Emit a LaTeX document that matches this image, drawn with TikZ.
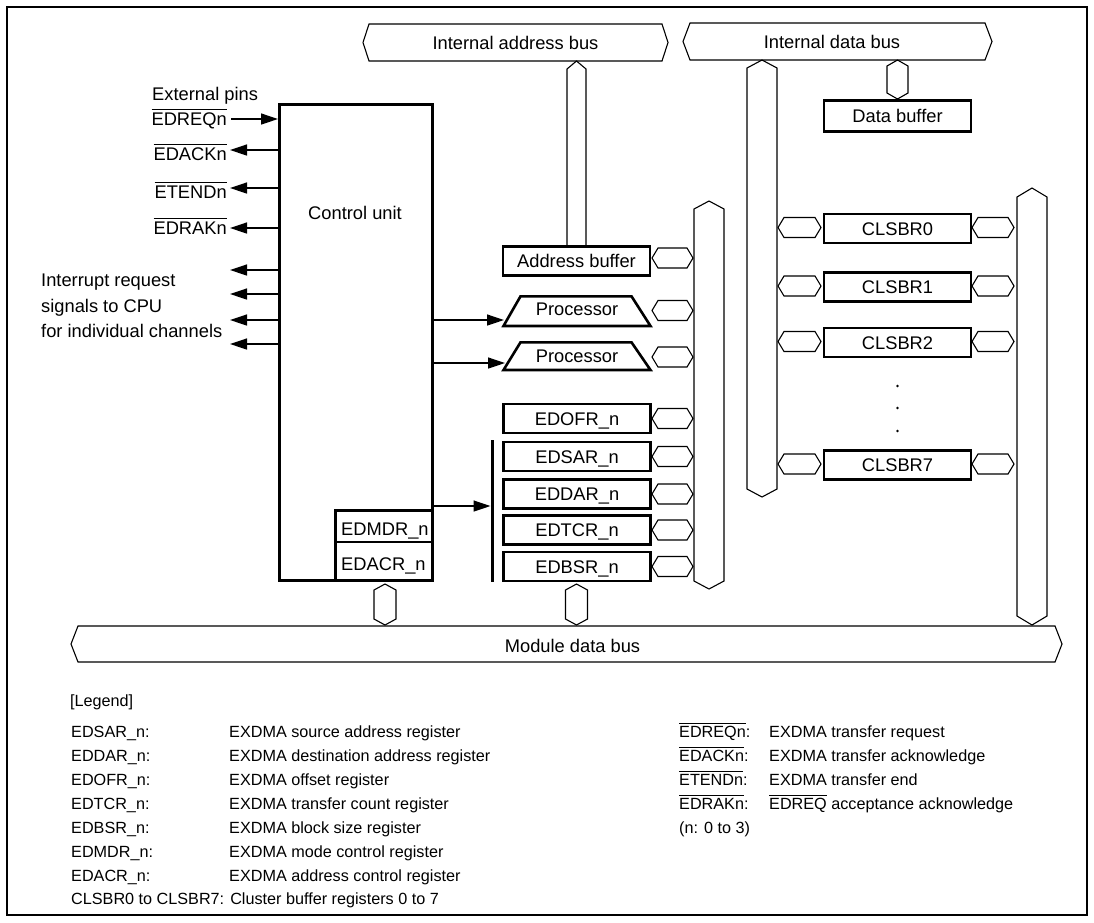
\documentclass[tikz,border=0pt]{standalone}
\usepackage{fontspec}
\setmainfont{Liberation Sans}
\usetikzlibrary{arrows.meta}

\newcommand{\diafont}{\fontsize{18.3}{22}\selectfont}
\newcommand{\legfont}{\fontsize{16.2}{19}\selectfont}
\newcommand{\ovl}[1]{\vbox{\hrule height 1pt\kern 2.6pt\hbox{#1}}}
%横バス
\newcommand{\hbuspath}[5]{\draw[bus] (#1,#3) -- (#1+#5,#3-#4) -- (#2-#5,#3-#4) -- (#2,#3) -- (#2-#5,#3+#4) -- (#1+#5,#3+#4) -- cycle;}
%縦バス
\newcommand{\vbuspath}[5]{\draw[bus] (#1,#2) -- (#1+#4,#2+#5) -- (#1+#4,#3-#5) -- (#1,#3) -- (#1-#4,#3-#5) -- (#1-#4,#2+#5) -- cycle;}

\tikzset{
  bus/.style={draw, line width=1.1pt},
  lbl/.style={inner sep=0pt, text height=13.1pt, text depth=0pt},
  regbox/.style={draw, line width=2.6pt, inner sep=0pt, minimum width=147pt, minimum height=29pt, text height=13.1pt, text depth=0pt},
  leg/.style={anchor=west, inner sep=0pt, font=\legfont, text height=11.6pt, text depth=0pt},
  sig/.style={line width=1.3pt, -{Triangle[length=17pt,width=11pt]}},
}

\begin{document}
\begin{tikzpicture}[x=1pt, y=-1pt, font=\diafont]
  \useasboundingbox (0,0) rectangle (1094,922);
  %枠
  \draw[line width=2.5pt] (7,7) rectangle (1087,915);
  %バス
  \hbuspath{363}{668}{42.5}{18.5}{6}
  \hbuspath{683}{992}{41.5}{18.5}{7}
  \hbuspath{71}{1062}{644}{18}{7}
  \node[lbl] (iab) at (515.5,42.5) {Internal address bus};
  \node[lbl] (idb) at (832,41.5) {Internal data bus};
  \node[lbl] (mdb) at (572.5,645.5) {Module data bus};
  \draw[bus] (567,245) -- (567,69) -- (576.5,61) -- (586,69) -- (586,245);
  \vbuspath{762}{60}{497}{15}{8}
  \vbuspath{709}{201}{589}{15}{8}
  \vbuspath{1032}{188}{625}{15}{9}
  \vbuspath{897.5}{60}{99}{10.5}{6}
  \vbuspath{385}{584}{625}{11}{6}
  \vbuspath{576.5}{584}{625}{11}{6}
  \foreach \y in {258,310.5,357,418.5,456.5,494,530,566.5}{\hbuspath{652}{693}{\y}{10}{6}}
  \foreach \y in {227.5,286,341.5,464}{
    \hbuspath{778}{821}{\y}{10}{6}
    \hbuspath{972}{1014}{\y}{10}{6}
  }
  %制御部
  \node[draw, line width=2.6pt, inner sep=0pt, minimum width=153.4pt, minimum height=476.4pt] (cu) at (356,342.5) {};
  \node[lbl] (cutxt) at (355,213) {Control unit};
  \node[regbox, minimum width=97.4pt, minimum height=31.7pt] (mdr) at (384,526.2) {};
  \node[regbox, minimum width=97.4pt, minimum height=38.7pt] (acr) at (384,561.4) {};
  \node[lbl, anchor=west] (mdrtxt) at (341,529) {EDMDR\_n};
  \node[lbl, anchor=west] (acrtxt) at (341,563.5) {EDACR\_n};
  %バッファ
  \node[regbox] (abuf) at (576.5,261) {Address buffer};
  \node[regbox, minimum height=31.4pt] (dbuf) at (897.5,116) {Data buffer};
  %演算器
  \draw[line width=2.6pt] (503.5,326) -- (520.5,296.3) -- (631.5,296.3) -- (650.5,326) -- cycle;
  \node[lbl] (proc1) at (577,308.5) {Processor};
  \draw[line width=2.6pt] (503.5,370) -- (520.5,342.3) -- (631.5,342.3) -- (650.5,370) -- cycle;
  \node[lbl] (proc2) at (577,355.5) {Processor};
  \coordinate (p1in) at (504,320);
  \coordinate (p2in) at (505,363);
  \draw[sig] (cu.east |- p1in) -- (p1in);
  \draw[sig] (cu.east |- p2in) -- (p2in);
  %レジスタ
  \node[regbox] (ofr) at (577,418.5) {EDOFR\_n};
  \node[regbox] (sar) at (577,456.5) {EDSAR\_n};
  \node[regbox] (dar) at (577,494) {EDDAR\_n};
  \node[regbox] (tcr) at (577,530) {EDTCR\_n};
  \node[regbox] (bsr) at (577,566.5) {EDBSR\_n};
  \draw[line width=3pt] (492,440) -- (492,582);
  \coordinate (grpin) at (490.5,506);
  \draw[sig] (cu.east |- grpin) -- (grpin);
  %クラスタバッファ
  \foreach \i/\y in {0/227.5,1/286,2/341.5,7/464}
    \node[regbox] (cls\i) at (897.5,\y+1) {CLSBR\i};
  \foreach \y in {386,408,431}
    \fill (897.5,\y) circle (1.3pt);
  %外部端子
  \node[lbl, anchor=west] (extpins) at (152,93.5) {External pins};
  \node[lbl, anchor=east] (req) at (227,119) {\ovl{EDREQn}};
  \node[lbl, anchor=east] (ack) at (227,154) {\ovl{EDACKn}};
  \node[lbl, anchor=east] (tend) at (227,192) {\ovl{ETENDn}};
  \node[lbl, anchor=east] (rak) at (227,228) {\ovl{EDRAKn}};
  \coordinate (reqout) at (231,119);
  \coordinate (ackin) at (230,150);
  \coordinate (tendin) at (230,188);
  \coordinate (rakin) at (230,228);
  \draw[sig] (reqout) -- (cu.west |- reqout);
  \draw[sig] (cu.west |- ackin) -- (ackin);
  \draw[sig] (cu.west |- tendin) -- (tendin);
  \draw[sig] (cu.west |- rakin) -- (rakin);
  %割り込み
  \foreach \y in {270,294,320,344}{
    \coordinate (irq\y) at (230,\y);
    \draw[sig] (cu.west |- irq\y) -- (irq\y);
  }
  \node[lbl, anchor=west] (irqa) at (41,280) {Interrupt request};
  \node[lbl, anchor=west] (irqb) at (41,305.5) {signals to CPU};
  \node[lbl, anchor=west] (irqc) at (41,331) {for individual channels};
  %凡例
  \node[leg] (legt) at (70,701) {[Legend]};
  \foreach \n/\t/\y in {SAR/source address/732, DAR/destination address/756, OFR/offset/780, TCR/transfer count/804, BSR/block size/828, MDR/mode control/852, ACR/address control/876}{
    \node[leg] (legk\n) at (71,\y) {ED\n\_n:};
    \node[leg] (legv\n) at (229,\y) {EXDMA \t\ register};
  }
  \node[leg] (legcls) at (71,899) {CLSBR0 to CLSBR7: Cluster buffer registers 0 to 7};
  \node[leg] (lreq) at (679,732) {\ovl{EDREQn}:};
  \node[leg] (dreq) at (769,732) {EXDMA transfer request};
  \node[leg] (lack) at (679,756) {\ovl{EDACKn}:};
  \node[leg] (dack) at (769,756) {EXDMA transfer acknowledge};
  \node[leg] (ltend) at (679,780) {\ovl{ETENDn}:};
  \node[leg] (dtend) at (769,780) {EXDMA transfer end};
  \node[leg] (lrak) at (679,804) {\ovl{EDRAKn}:};
  \node[leg] (drak) at (769,804) {\ovl{EDREQ} acceptance acknowledge};
  \node[leg] (lnn) at (679,828) {(n: 0 to 3)};
\end{tikzpicture}
\end{document}
